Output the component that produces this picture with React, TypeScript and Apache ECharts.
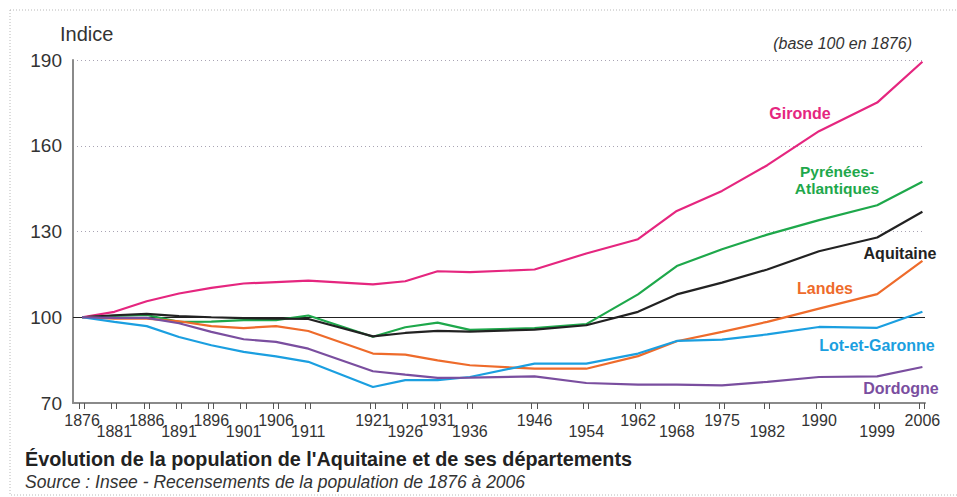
import React, { useEffect, useRef } from "react";
import * as echarts from "echarts";

const years = [1876, 1881, 1886, 1891, 1896, 1901, 1906, 1911, 1921, 1926, 1931, 1936, 1946, 1954, 1962, 1968, 1975, 1982, 1990, 1999, 2006];
const gironde = [100, 101.9, 105.6, 108.3, 110.3, 111.8, 112.3, 112.8, 111.5, 112.6, 116.1, 115.8, 116.7, 122.3, 127.3, 137.2, 144.2, 153.2, 165.1, 175.1, 189.4];
const pyrenees = [100, 100.5, 100.8, 98.4, 98.5, 99, 99, 100.6, 93.2, 96.5, 98.1, 95.6, 96.2, 97.6, 108, 117.9, 123.8, 128.9, 134, 139.2, 147.4];
const aquitaine = [100, 100.7, 101.2, 100.4, 100, 99.7, 99.5, 99.4, 93.3, 94.5, 95.2, 95, 95.7, 97.2, 101.9, 108, 112.1, 116.7, 123.1, 127.9, 136.9];
const landes = [100, 99.5, 99.5, 98.6, 96.9, 96.2, 96.9, 95.2, 87.3, 86.9, 84.9, 83.2, 82, 82, 86.4, 91.6, 94.9, 98.4, 103, 108.1, 119.7];
const lotEtGaronne = [100, 98.4, 96.9, 93.1, 90.2, 87.9, 86.3, 84.4, 75.6, 78, 78, 79.1, 83.8, 83.8, 87.3, 91.7, 92.2, 94, 96.6, 96.3, 101.9];
const dordogne = [100, 99.8, 99.8, 97.9, 94.9, 92.3, 91.4, 89, 81.1, 79.9, 78.8, 78.9, 79.3, 77, 76.4, 76.4, 76.2, 77.4, 79.1, 79.3, 82.6];
const yTicks = [70, 100, 130, 160, 190];

const seriesDefs = [
  { name: "Gironde", data: gironde, color: "#e5267f" },
  { name: "Pyrénées-Atlantiques", data: pyrenees, color: "#1ea84b" },
  { name: "Aquitaine", data: aquitaine, color: "#222222" },
  { name: "Landes", data: landes, color: "#ee6b2b" },
  { name: "Lot-et-Garonne", data: lotEtGaronne, color: "#1b9fe0" },
  { name: "Dordogne", data: dordogne, color: "#7a4e9f" },
];

const FONT = "'Liberation Sans', Arial, Helvetica, sans-serif";

export default function App() {
  const ref = useRef<HTMLDivElement>(null);
  useEffect(() => {
    if (!ref.current) return;
    const chart = echarts.init(ref.current, null, { renderer: "svg" });
    const upperYears = years.filter((_, i) => i % 2 === 0);
    const lowerYears = years.filter((_, i) => i % 2 === 1);
    const tickVals: number[] = [];
    years.forEach((y) => {
      tickVals.push(y - 0.45);
      tickVals.push(y + 0.35);
    });
    const xCommon = {
      type: "value" as const,
      min: 1874.6,
      max: 2006.4,
      position: "bottom" as const,
      splitLine: { show: false },
    };
    const option: any = {
      animation: false,
      backgroundColor: "#ffffff",
      textStyle: { fontFamily: FONT },
      grid: { left: 73, right: 32, top: 60, bottom: 94, containLabel: false },
      xAxis: [
        {
          ...xCommon,
          axisLine: { show: true, lineStyle: { color: "#8a8a8a", width: 2 } },
          axisTick: {
            show: true,
            customValues: tickVals,
            length: 6,
            lineStyle: { color: "#555", width: 1 },
          },
          axisLabel: {
            show: true,
            customValues: upperYears,
            formatter: (v: number) => String(Math.round(v)),
            fontSize: 16,
            color: "#333",
            margin: 9,
            fontFamily: FONT,
          },
        },
        {
          ...xCommon,
          axisLine: { show: false },
          axisTick: { show: false },
          axisLabel: {
            show: true,
            customValues: lowerYears,
            formatter: (v: number) => String(Math.round(v)),
            fontSize: 16,
            color: "#333",
            margin: 20,
            fontFamily: FONT,
          },
        },
      ],
      yAxis: {
        type: "value",
        min: 70,
        max: 190,
        interval: 30,
        axisLine: { show: true, lineStyle: { color: "#8a8a8a", width: 2 } },
        axisTick: { show: false },
        axisLabel: {
          fontSize: 19,
          color: "#333",
          margin: 11,
          fontFamily: FONT,
          formatter: (v: number) => (yTicks.includes(v) ? String(v) : ""),
        },
        splitLine: {
          show: true,
          lineStyle: { color: "#a9a4b4", type: [1, 3], width: 1 },
        },
      },
      series: seriesDefs.map((s, idx) => ({
        name: s.name,
        type: "line",
        xAxisIndex: 0,
        data: years.map((y, i) => [y, s.data[i]]),
        showSymbol: false,
        symbol: "none",
        lineStyle: { color: s.color, width: 2.2 },
        itemStyle: { color: s.color },
        z: 3 + idx,
        markLine:
          idx === 0
            ? {
                silent: true,
                symbol: "none",
                label: { show: false },
                lineStyle: { color: "#222", type: "solid", width: 1 },
                data: [{ yAxis: 100 }],
                z: 1,
              }
            : undefined,
      })),
      graphic: [
        {
          type: "rect",
          shape: { x: 10, y: 10, width: 960, height: 485 },
          style: { fill: "none", stroke: "#b8b8b8", lineWidth: 1, lineDash: [1, 2] },
          z: -1,
        },
        {
          type: "text",
          style: { x: 60, y: 34, text: "Indice", font: `20px ${FONT}`, fill: "#333", textVerticalAlign: "middle" },
        },
        {
          type: "text",
          style: {
            x: 912,
            y: 43,
            text: "(base 100 en 1876)",
            font: `italic 16px ${FONT}`,
            fill: "#333",
            textAlign: "right",
            textVerticalAlign: "middle",
          },
        },
        {
          type: "text",
          style: { x: 800, y: 113, text: "Gironde", font: `bold 16px ${FONT}`, fill: "#e5267f", textAlign: "center", textVerticalAlign: "middle" },
        },
        {
          type: "text",
          style: { x: 837, y: 171, text: "Pyrénées-", font: `bold 15.5px ${FONT}`, fill: "#1ea84b", textAlign: "center", textVerticalAlign: "middle" },
        },
        {
          type: "text",
          style: { x: 837, y: 188, text: "Atlantiques", font: `bold 15.5px ${FONT}`, fill: "#1ea84b", textAlign: "center", textVerticalAlign: "middle" },
        },
        {
          type: "text",
          style: { x: 900, y: 253, text: "Aquitaine", font: `bold 16px ${FONT}`, fill: "#222", textAlign: "center", textVerticalAlign: "middle" },
        },
        {
          type: "text",
          style: { x: 825, y: 288, text: "Landes", font: `bold 16px ${FONT}`, fill: "#ee6b2b", textAlign: "center", textVerticalAlign: "middle" },
        },
        {
          type: "text",
          style: { x: 877, y: 345, text: "Lot-et-Garonne", font: `bold 16px ${FONT}`, fill: "#1b9fe0", textAlign: "center", textVerticalAlign: "middle" },
        },
        {
          type: "text",
          style: { x: 901, y: 388, text: "Dordogne", font: `bold 16px ${FONT}`, fill: "#7a4e9f", textAlign: "center", textVerticalAlign: "middle" },
        },
        {
          type: "text",
          style: {
            x: 25,
            y: 459,
            text: "Évolution de la population de l'Aquitaine et de ses départements",
            font: `bold 19.8px ${FONT}`,
            fill: "#222",
            textVerticalAlign: "middle",
          },
        },
        {
          type: "text",
          style: {
            x: 25,
            y: 482,
            text: "Source : Insee - Recensements de la population de 1876 à 2006",
            font: `italic 17.5px ${FONT}`,
            fill: "#333",
            textVerticalAlign: "middle",
          },
        },
      ],
    };
    chart.setOption(option);
    return () => chart.dispose();
  }, []);
  return (
    <div
      ref={ref}
      style={{ position: "fixed", left: 0, top: 0, width: 957, height: 497, background: "#fff" }}
    />
  );
}
